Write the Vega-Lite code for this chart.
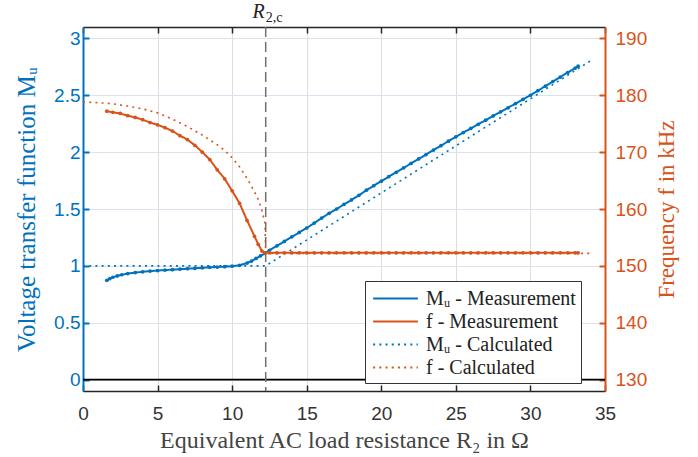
{
  "$schema": "https://vega.github.io/schema/vega-lite/v6.json",
  "width": 522,
  "height": 364,
  "autosize": {"type": "none"},
  "padding": {"left": 83, "top": 27, "right": 93, "bottom": 66},
  "background": "white",
  "data": {"values": [
    {"s": "Mᵤ - Measurement", "R": 1.6, "v": 0.873},
    {"s": "Mᵤ - Measurement", "R": 1.8, "v": 0.888},
    {"s": "Mᵤ - Measurement", "R": 2.0, "v": 0.9},
    {"s": "Mᵤ - Measurement", "R": 2.3, "v": 0.912},
    {"s": "Mᵤ - Measurement", "R": 2.6, "v": 0.922},
    {"s": "Mᵤ - Measurement", "R": 3.0, "v": 0.932},
    {"s": "Mᵤ - Measurement", "R": 3.5, "v": 0.941},
    {"s": "Mᵤ - Measurement", "R": 4.0, "v": 0.948},
    {"s": "Mᵤ - Measurement", "R": 4.5, "v": 0.954},
    {"s": "Mᵤ - Measurement", "R": 5.0, "v": 0.959},
    {"s": "Mᵤ - Measurement", "R": 5.5, "v": 0.963},
    {"s": "Mᵤ - Measurement", "R": 6.0, "v": 0.967},
    {"s": "Mᵤ - Measurement", "R": 6.5, "v": 0.971},
    {"s": "Mᵤ - Measurement", "R": 7.0, "v": 0.975},
    {"s": "Mᵤ - Measurement", "R": 7.5, "v": 0.979},
    {"s": "Mᵤ - Measurement", "R": 8.0, "v": 0.983},
    {"s": "Mᵤ - Measurement", "R": 8.5, "v": 0.987},
    {"s": "Mᵤ - Measurement", "R": 9.0, "v": 0.99},
    {"s": "Mᵤ - Measurement", "R": 9.5, "v": 0.993},
    {"s": "Mᵤ - Measurement", "R": 10.0, "v": 0.997},
    {"s": "Mᵤ - Measurement", "R": 10.5, "v": 1.005},
    {"s": "Mᵤ - Measurement", "R": 11.0, "v": 1.025},
    {"s": "Mᵤ - Measurement", "R": 11.3, "v": 1.042},
    {"s": "Mᵤ - Measurement", "R": 11.6, "v": 1.065},
    {"s": "Mᵤ - Measurement", "R": 11.9, "v": 1.088},
    {"s": "Mᵤ - Measurement", "R": 12.2, "v": 1.11},
    {"s": "Mᵤ - Measurement", "R": 12.5, "v": 1.137},
    {"s": "Mᵤ - Measurement", "R": 13.0, "v": 1.176},
    {"s": "Mᵤ - Measurement", "R": 13.5, "v": 1.215},
    {"s": "Mᵤ - Measurement", "R": 14.0, "v": 1.255},
    {"s": "Mᵤ - Measurement", "R": 14.5, "v": 1.294},
    {"s": "Mᵤ - Measurement", "R": 15.0, "v": 1.333},
    {"s": "Mᵤ - Measurement", "R": 15.5, "v": 1.376},
    {"s": "Mᵤ - Measurement", "R": 16.0, "v": 1.42},
    {"s": "Mᵤ - Measurement", "R": 16.5, "v": 1.462},
    {"s": "Mᵤ - Measurement", "R": 17.0, "v": 1.5},
    {"s": "Mᵤ - Measurement", "R": 17.5, "v": 1.54},
    {"s": "Mᵤ - Measurement", "R": 18.0, "v": 1.58},
    {"s": "Mᵤ - Measurement", "R": 18.5, "v": 1.62},
    {"s": "Mᵤ - Measurement", "R": 19.0, "v": 1.665},
    {"s": "Mᵤ - Measurement", "R": 19.5, "v": 1.705},
    {"s": "Mᵤ - Measurement", "R": 20.0, "v": 1.745},
    {"s": "Mᵤ - Measurement", "R": 20.5, "v": 1.784},
    {"s": "Mᵤ - Measurement", "R": 21.0, "v": 1.823},
    {"s": "Mᵤ - Measurement", "R": 21.5, "v": 1.862},
    {"s": "Mᵤ - Measurement", "R": 22.0, "v": 1.901},
    {"s": "Mᵤ - Measurement", "R": 22.5, "v": 1.94},
    {"s": "Mᵤ - Measurement", "R": 23.0, "v": 1.979},
    {"s": "Mᵤ - Measurement", "R": 23.5, "v": 2.018},
    {"s": "Mᵤ - Measurement", "R": 24.0, "v": 2.057},
    {"s": "Mᵤ - Measurement", "R": 24.5, "v": 2.096},
    {"s": "Mᵤ - Measurement", "R": 25.0, "v": 2.135},
    {"s": "Mᵤ - Measurement", "R": 25.5, "v": 2.172},
    {"s": "Mᵤ - Measurement", "R": 26.0, "v": 2.208},
    {"s": "Mᵤ - Measurement", "R": 26.5, "v": 2.245},
    {"s": "Mᵤ - Measurement", "R": 27.0, "v": 2.281},
    {"s": "Mᵤ - Measurement", "R": 27.5, "v": 2.318},
    {"s": "Mᵤ - Measurement", "R": 28.0, "v": 2.354},
    {"s": "Mᵤ - Measurement", "R": 28.5, "v": 2.39},
    {"s": "Mᵤ - Measurement", "R": 29.0, "v": 2.427},
    {"s": "Mᵤ - Measurement", "R": 29.5, "v": 2.463},
    {"s": "Mᵤ - Measurement", "R": 30.0, "v": 2.5},
    {"s": "Mᵤ - Measurement", "R": 30.5, "v": 2.54},
    {"s": "Mᵤ - Measurement", "R": 31.0, "v": 2.58},
    {"s": "Mᵤ - Measurement", "R": 31.5, "v": 2.62},
    {"s": "Mᵤ - Measurement", "R": 32.0, "v": 2.66},
    {"s": "Mᵤ - Measurement", "R": 32.5, "v": 2.7},
    {"s": "Mᵤ - Measurement", "R": 33.0, "v": 2.739},
    {"s": "Mᵤ - Measurement", "R": 33.2, "v": 2.755},
    {"s": "f - Measurement", "R": 1.6, "v": 177.2},
    {"s": "f - Measurement", "R": 2.0, "v": 177.0},
    {"s": "f - Measurement", "R": 2.5, "v": 176.8},
    {"s": "f - Measurement", "R": 3.0, "v": 176.4},
    {"s": "f - Measurement", "R": 3.5, "v": 176.1},
    {"s": "f - Measurement", "R": 4.0, "v": 175.7},
    {"s": "f - Measurement", "R": 4.5, "v": 175.2},
    {"s": "f - Measurement", "R": 5.0, "v": 174.8},
    {"s": "f - Measurement", "R": 5.5, "v": 174.3},
    {"s": "f - Measurement", "R": 6.0, "v": 173.7},
    {"s": "f - Measurement", "R": 6.5, "v": 172.9},
    {"s": "f - Measurement", "R": 7.0, "v": 172.2},
    {"s": "f - Measurement", "R": 7.5, "v": 171.2},
    {"s": "f - Measurement", "R": 8.0, "v": 170.0},
    {"s": "f - Measurement", "R": 8.5, "v": 168.7},
    {"s": "f - Measurement", "R": 9.0, "v": 166.9},
    {"s": "f - Measurement", "R": 9.5, "v": 165.3},
    {"s": "f - Measurement", "R": 10.0, "v": 163.2},
    {"s": "f - Measurement", "R": 10.5, "v": 161.0},
    {"s": "f - Measurement", "R": 11.0, "v": 158.0},
    {"s": "f - Measurement", "R": 11.5, "v": 155.2},
    {"s": "f - Measurement", "R": 11.75, "v": 153.8},
    {"s": "f - Measurement", "R": 12.0, "v": 152.6},
    {"s": "f - Measurement", "R": 12.2, "v": 152.3},
    {"s": "f - Measurement", "R": 12.5, "v": 152.3},
    {"s": "f - Measurement", "R": 13.0, "v": 152.3},
    {"s": "f - Measurement", "R": 13.5, "v": 152.3},
    {"s": "f - Measurement", "R": 14.0, "v": 152.3},
    {"s": "f - Measurement", "R": 14.5, "v": 152.3},
    {"s": "f - Measurement", "R": 15.0, "v": 152.3},
    {"s": "f - Measurement", "R": 15.5, "v": 152.3},
    {"s": "f - Measurement", "R": 16.0, "v": 152.3},
    {"s": "f - Measurement", "R": 16.5, "v": 152.3},
    {"s": "f - Measurement", "R": 17.0, "v": 152.3},
    {"s": "f - Measurement", "R": 17.5, "v": 152.3},
    {"s": "f - Measurement", "R": 18.0, "v": 152.3},
    {"s": "f - Measurement", "R": 18.5, "v": 152.3},
    {"s": "f - Measurement", "R": 19.0, "v": 152.3},
    {"s": "f - Measurement", "R": 19.5, "v": 152.3},
    {"s": "f - Measurement", "R": 20.0, "v": 152.3},
    {"s": "f - Measurement", "R": 20.5, "v": 152.3},
    {"s": "f - Measurement", "R": 21.0, "v": 152.3},
    {"s": "f - Measurement", "R": 21.5, "v": 152.3},
    {"s": "f - Measurement", "R": 22.0, "v": 152.3},
    {"s": "f - Measurement", "R": 22.5, "v": 152.3},
    {"s": "f - Measurement", "R": 23.0, "v": 152.3},
    {"s": "f - Measurement", "R": 23.5, "v": 152.3},
    {"s": "f - Measurement", "R": 24.0, "v": 152.3},
    {"s": "f - Measurement", "R": 24.5, "v": 152.3},
    {"s": "f - Measurement", "R": 25.0, "v": 152.3},
    {"s": "f - Measurement", "R": 25.5, "v": 152.3},
    {"s": "f - Measurement", "R": 26.0, "v": 152.3},
    {"s": "f - Measurement", "R": 26.5, "v": 152.3},
    {"s": "f - Measurement", "R": 27.0, "v": 152.3},
    {"s": "f - Measurement", "R": 27.5, "v": 152.3},
    {"s": "f - Measurement", "R": 28.0, "v": 152.3},
    {"s": "f - Measurement", "R": 28.5, "v": 152.3},
    {"s": "f - Measurement", "R": 29.0, "v": 152.3},
    {"s": "f - Measurement", "R": 29.5, "v": 152.3},
    {"s": "f - Measurement", "R": 30.0, "v": 152.3},
    {"s": "f - Measurement", "R": 30.5, "v": 152.3},
    {"s": "f - Measurement", "R": 31.0, "v": 152.3},
    {"s": "f - Measurement", "R": 31.5, "v": 152.3},
    {"s": "f - Measurement", "R": 32.0, "v": 152.3},
    {"s": "f - Measurement", "R": 32.5, "v": 152.3},
    {"s": "f - Measurement", "R": 33.0, "v": 152.3},
    {"s": "f - Measurement", "R": 33.2, "v": 152.3},
    {"s": "Mᵤ - Calculated", "R": 0, "v": 1.0},
    {"s": "Mᵤ - Calculated", "R": 12.25, "v": 1.0},
    {"s": "Mᵤ - Calculated", "R": 34, "v": 2.8},
    {"s": "\u00a0f - Calculated", "R": 0, "v": 178.8},
    {"s": "\u00a0f - Calculated", "R": 1, "v": 178.7},
    {"s": "\u00a0f - Calculated", "R": 2, "v": 178.5},
    {"s": "\u00a0f - Calculated", "R": 3, "v": 178.1},
    {"s": "\u00a0f - Calculated", "R": 4, "v": 177.6},
    {"s": "\u00a0f - Calculated", "R": 5, "v": 176.9},
    {"s": "\u00a0f - Calculated", "R": 6, "v": 175.8},
    {"s": "\u00a0f - Calculated", "R": 7, "v": 174.5},
    {"s": "\u00a0f - Calculated", "R": 8, "v": 173.0},
    {"s": "\u00a0f - Calculated", "R": 9, "v": 171.3},
    {"s": "\u00a0f - Calculated", "R": 9.5, "v": 170.3},
    {"s": "\u00a0f - Calculated", "R": 10, "v": 169.0},
    {"s": "\u00a0f - Calculated", "R": 10.5, "v": 167.4},
    {"s": "\u00a0f - Calculated", "R": 11, "v": 165.4},
    {"s": "\u00a0f - Calculated", "R": 11.5, "v": 163.0},
    {"s": "\u00a0f - Calculated", "R": 11.8, "v": 161.4},
    {"s": "\u00a0f - Calculated", "R": 12.0, "v": 159.7},
    {"s": "\u00a0f - Calculated", "R": 12.2, "v": 157.5},
    {"s": "\u00a0f - Calculated", "R": 12.25, "v": 152.2},
    {"s": "\u00a0f - Calculated", "R": 34, "v": 152.2}
  ]},
  "layer": [
    {
      "layer": [
        {
          "transform": [{"filter": {"field": "s", "equal": "Mᵤ - Calculated"}}],
          "mark": {"type": "line", "strokeWidth": 1.6},
          "encoding": {
            "x": {"field": "R", "type": "quantitative", "scale": {"domain": [0, 35], "nice": false, "zero": false},
                  "axis": {"orient": "bottom", "values": [0, 5, 10, 15, 20, 25, 30, 35], "title": "Equivalent AC load resistance R₂ in Ω"}},
            "y": {"field": "v", "type": "quantitative", "scale": {"domain": [-0.1, 3.1], "nice": false, "zero": false},
                  "axis": {"orient": "left", "values": [0, 0.5, 1, 1.5, 2, 2.5, 3], "format": "~g", "title": "Voltage transfer function Mᵤ"}},
            "color": {"field": "s", "type": "nominal",
                      "scale": {"domain": ["Mᵤ - Measurement", "f - Measurement", "Mᵤ - Calculated", "\u00a0f - Calculated"],
                                "range": ["#0072BD", "#D95319", "#0072BD", "#D95319"]},
                      "legend": {"title": null}},
            "strokeDash": {"field": "s", "type": "nominal",
                      "scale": {"domain": ["Mᵤ - Measurement", "f - Measurement", "Mᵤ - Calculated", "\u00a0f - Calculated"],
                                "range": [[1, 0], [1, 0], [2, 4.2], [2, 4.2]]},
                      "legend": {"title": null}}
          }
        },
        {
          "transform": [{"filter": {"field": "s", "equal": "Mᵤ - Measurement"}}],
          "mark": {"type": "line", "strokeWidth": 2, "point": {"filled": true, "size": 14}},
          "encoding": {
            "x": {"field": "R", "type": "quantitative"},
            "y": {"field": "v", "type": "quantitative"},
            "color": {"field": "s", "type": "nominal"},
            "strokeDash": {"field": "s", "type": "nominal"}
          }
        },
        {
          "data": {"values": [{}]},
          "mark": {"type": "rule", "color": "#000000", "strokeWidth": 1.6},
          "encoding": {"y": {"datum": 0, "type": "quantitative"}}
        },
        {
          "data": {"values": [{}]},
          "mark": {"type": "rule", "color": "#707070", "strokeWidth": 1.5, "strokeDash": [10, 5]},
          "encoding": {"x": {"datum": 12.25, "type": "quantitative"}}
        },
        {
          "data": {"values": [{}]},
          "mark": {"type": "text", "font": "Liberation Serif", "fontStyle": "italic", "fontSize": 20, "align": "right", "baseline": "alphabetic", "dx": -1, "dy": -9, "color": "#222222"},
          "encoding": {"x": {"datum": 12.25, "type": "quantitative"}, "y": {"datum": 3.1, "type": "quantitative"}, "text": {"value": "R"}}
        },
        {
          "data": {"values": [{}]},
          "mark": {"type": "text", "font": "Liberation Serif", "fontSize": 14, "align": "left", "baseline": "alphabetic", "dx": 0, "dy": -5, "color": "#222222"},
          "encoding": {"x": {"datum": 12.25, "type": "quantitative"}, "y": {"datum": 3.1, "type": "quantitative"}, "text": {"value": "2,c"}}
        }
      ]
    },
    {
      "layer": [
        {
          "transform": [{"filter": {"field": "s", "equal": "\u00a0f - Calculated"}}],
          "mark": {"type": "line", "strokeWidth": 1.6},
          "encoding": {
            "x": {"field": "R", "type": "quantitative", "scale": {"domain": [0, 35], "nice": false, "zero": false},
                  "axis": {"orient": "top", "values": [0, 5, 10, 15, 20, 25, 30, 35], "labels": false, "title": null, "grid": false}},
            "y": {"field": "v", "type": "quantitative", "scale": {"domain": [128, 192], "nice": false, "zero": false},
                  "axis": {"orient": "right", "values": [130, 140, 150, 160, 170, 180, 190], "title": "Frequency f in kHz", "grid": false}},
            "color": {"field": "s", "type": "nominal"},
            "strokeDash": {"field": "s", "type": "nominal"}
          }
        },
        {
          "transform": [{"filter": {"field": "s", "equal": "f - Measurement"}}],
          "mark": {"type": "line", "strokeWidth": 2, "point": {"filled": true, "size": 14}},
          "encoding": {
            "x": {"field": "R", "type": "quantitative"},
            "y": {"field": "v", "type": "quantitative"},
            "color": {"field": "s", "type": "nominal"},
            "strokeDash": {"field": "s", "type": "nominal"}
          }
        }
      ]
    }
  ],
  "resolve": {"scale": {"y": "independent"}, "axis": {"x": "independent"}},
  "config": {
    "view": {"stroke": null},
    "axis": {
      "labelFont": "Liberation Sans",
      "labelFontSize": 19,
      "labelFlush": false,
      "titleFont": "Liberation Serif",
      "titleFontSize": 24,
      "titleFontWeight": "normal",
      "tickSize": -6,
      "tickWidth": 1.5,
      "domainWidth": 1.5,
      "gridWidth": 1
    },
    "axisBottom": {
      "domainColor": "#262626", "tickColor": "#262626", "labelColor": "#333333", "titleColor": "#444444",
      "grid": true, "gridColor": "#dedede", "labelPadding": 19, "titlePadding": 5
    },
    "axisTop": {
      "domainColor": "#262626", "tickColor": "#262626", "grid": false
    },
    "axisLeft": {
      "domainColor": "#0072BD", "tickColor": "#0072BD", "labelColor": "#0072BD", "titleColor": "#0072BD",
      "domainWidth": 2, "tickWidth": 2, "grid": true, "gridColor": "#dce3ef", "labelPadding": 9, "titlePadding": 14, "titleFontSize": 25
    },
    "axisRight": {
      "domainColor": "#D95319", "tickColor": "#D95319", "labelColor": "#D95319", "titleColor": "#D95319",
      "domainWidth": 2, "tickWidth": 2, "labelPadding": 16, "titlePadding": 32, "titleAngle": 270, "titleFontSize": 23
    },
    "legend": {
      "orient": "none", "legendX": 282, "legendY": 254,
      "fillColor": "white", "strokeColor": "#333333", "padding": 5,
      "labelFont": "Liberation Serif", "labelFontSize": 20, "labelColor": "#222222",
      "symbolType": "M-2,0H2", "symbolSize": 500, "symbolStrokeWidth": 2.2, "symbolOffset": 13,
      "rowPadding": -1, "labelOffset": 18, "cornerRadius": 0
    }
  }
}
